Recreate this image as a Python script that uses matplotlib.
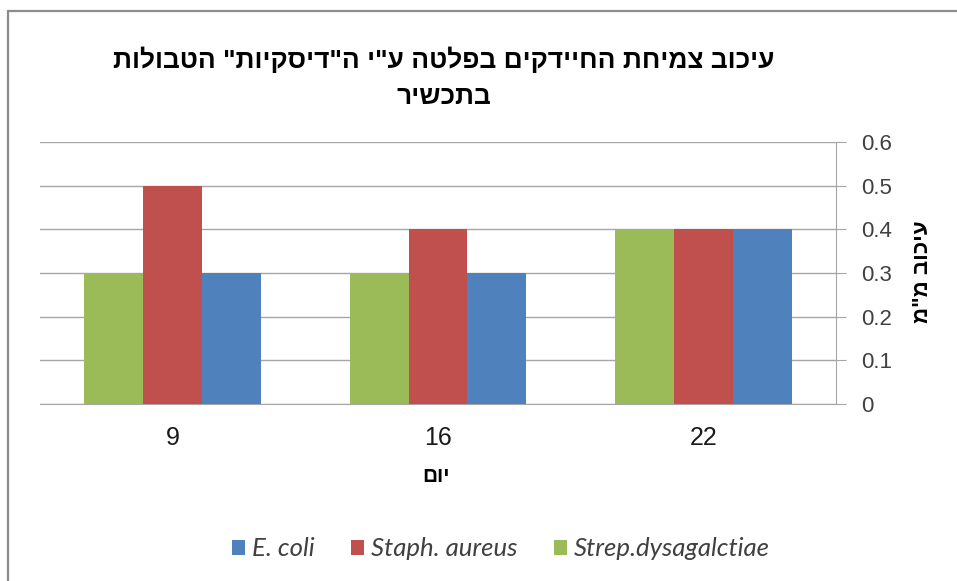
import matplotlib
matplotlib.use("Agg")
import matplotlib.pyplot as plt
import numpy as np
from matplotlib.patches import Rectangle, Patch

categories = ["9", "16", "22"]
series_names = ["E. coli", "Staph. aureus", "Strep.dysagalctiae"]
ecoli = [0.3, 0.3, 0.4]
staph = [0.5, 0.4, 0.4]
strep = [0.3, 0.3, 0.4]
yticks = [0, 0.1, 0.2, 0.3, 0.4, 0.5, 0.6]
ytick_labels = ["0", "0.1", "0.2", "0.3", "0.4", "0.5", "0.6"]

title_lines = ['עיכוב צמיחת החיידקים בפלטה ע"י ה"דיסקיות" הטבולות', 'בתכשיר']
xlabel = 'יום'
ylabel = 'עיכוב מ"מ'

def vis(s):
    # visual (RTL) order for left-to-right rendering
    return s[::-1]

colors = {"E. coli": "#4F81BD", "Staph. aureus": "#C0504D", "Strep.dysagalctiae": "#9BBB59"}

plt.rcParams['font.family'] = ['Liberation Sans', 'DejaVu Sans']

W, H = 957, 581
fig = plt.figure(figsize=(W/100, H/100), dpi=100)
fig.patch.set_facecolor("white")

# outer chart frame
fig.patches.append(Rectangle((8/W, -0.05), 1.2, (H-11)/H + 0.05,
                             transform=fig.transFigure, fill=False,
                             edgecolor="#8c8c8c", linewidth=1.6, zorder=0))

ax = fig.add_axes([40/W, 1-404/H, (836-40)/W, (404-142)/H])

x = np.arange(len(categories))
w = 0.222
ax.bar(x - w, strep, w, color=colors["Strep.dysagalctiae"], zorder=3)
ax.bar(x, staph, w, color=colors["Staph. aureus"], zorder=3)
ax.bar(x + w, ecoli, w, color=colors["E. coli"], zorder=3)

ax.set_xlim(-0.5, 2.5)
ax.set_ylim(0, 0.6)
ax.set_yticks(yticks)
ax.set_yticklabels(ytick_labels)
ax.yaxis.tick_right()
ax.grid(axis="y", color="#a6a6a6", linewidth=1.0, zorder=0)
ax.set_axisbelow(True)

for s in ["top", "left"]:
    ax.spines[s].set_visible(False)
ax.spines["right"].set_color("#a6a6a6")
ax.spines["bottom"].set_color("#a6a6a6")

ax.tick_params(axis="y", direction="out", length=7, color="#a6a6a6",
               labelsize=16, labelcolor="#404040", pad=11)
ax.set_xticks(x)
ax.set_xticklabels(categories)
ax.tick_params(axis="x", length=0, labelsize=18, labelcolor="#1a1a1a", pad=16)

fig.text(436/W, 1-477/H, vis(xlabel), ha="center", va="center",
         fontsize=15, fontweight="bold")
fig.text(922/W, 1-272/H, vis(ylabel), ha="center", va="center", rotation=90,
         fontsize=16, fontweight="bold")

fig.text(444/W, 1-60/H, vis(title_lines[0]), ha="center", va="center",
         fontsize=19, fontweight="bold")
fig.text(444/W, 1-97/H, vis(title_lines[1]), ha="center", va="center",
         fontsize=19, fontweight="bold")

handles = [Patch(facecolor=colors[n], edgecolor="none") for n in series_names]
leg = fig.legend(handles, series_names, loc="center", bbox_to_anchor=(501/W, 1-549/H),
                 ncol=3, frameon=False, handlelength=0.5, handleheight=0.5,
                 handletextpad=0.3, columnspacing=1.4,
                 prop={"family": "Lato", "style": "italic", "size": 18.5})
for t in leg.get_texts():
    t.set_color("#404040")

fig.savefig("out.png", dpi=100, facecolor="white")
